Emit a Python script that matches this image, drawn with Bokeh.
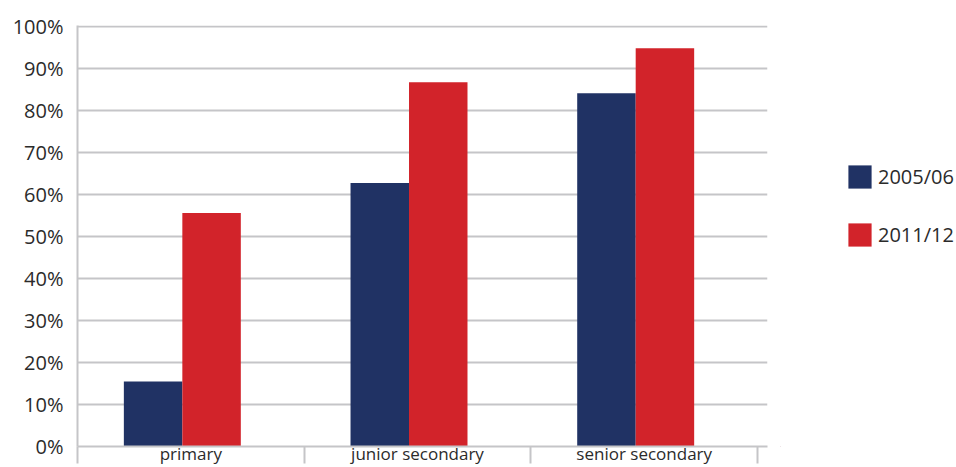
from bokeh.plotting import figure
from bokeh.layouts import row
from bokeh.models import (Range1d, FixedTicker, PrintfTickFormatter, ColumnDataSource,
                          Legend, LegendItem)
from bokeh.transform import dodge
from bokeh.embed import file_html
from bokeh.resources import INLINE

# Share of pupils (%) by school level
categories = ["primary", "junior secondary", "senior secondary"]
series_names = ["2005/06", "2011/12"]
values_2005 = [15.5, 62.7, 84.1]
values_2011 = [55.6, 86.7, 94.8]
y_ticks = [0, 10, 20, 30, 40, 50, 60, 70, 80, 90, 100]

BLUE = "#203264"
RED = "#d2232a"
GRID = "#c5c5c8"
TEXT = "#2b2b2b"
FONT = "Open Sans"

n = len(categories)
centers = [i + 0.5 for i in range(n)]
source = ColumnDataSource(data=dict(x=centers, a=values_2005, b=values_2011))

p = figure(width=780, height=467, output_backend="svg", toolbar_location=None,
           x_range=Range1d(0, n + 0.044), y_range=Range1d(0, 100.2),
           min_border_left=77, min_border_right=13, min_border_top=25,
           min_border_bottom=21)
p.outline_line_color = None
p.background_fill_color = "white"
p.border_fill_color = "white"

bar_w = 0.258
shift = -0.0375
r1 = p.vbar(x=dodge("x", shift - bar_w / 2, range=p.x_range), top="a", width=bar_w,
            source=source, fill_color=BLUE, line_color=None)
r2 = p.vbar(x=dodge("x", shift + bar_w / 2, range=p.x_range), top="b", width=bar_w,
            source=source, fill_color=RED, line_color=None)

# x axis: category names centred, separator ticks between categories
xa = p.xaxis[0]
xa.ticker = FixedTicker(ticks=centers, minor_ticks=list(range(n + 1)))
xa.major_label_overrides = {c: name for c, name in zip(centers, categories)}
xa.major_tick_line_color = None
xa.major_tick_out = 0
xa.major_tick_in = 0
xa.minor_tick_line_color = GRID
xa.minor_tick_line_width = 2
xa.minor_tick_out = 17
xa.minor_tick_in = 0
xa.axis_line_color = GRID
xa.axis_line_width = 2
xa.major_label_standoff = -22
xa.major_label_text_font = FONT
xa.major_label_text_font_size = "17px"
xa.major_label_text_color = TEXT

ya = p.yaxis[0]
ya.ticker = FixedTicker(ticks=y_ticks)
ya.formatter = PrintfTickFormatter(format="%d%%")
ya.major_tick_line_color = None
ya.minor_tick_line_color = None
ya.major_tick_out = 0
ya.axis_line_color = GRID
ya.axis_line_width = 2
ya.major_label_standoff = 14
ya.major_label_text_font = FONT
ya.major_label_text_font_size = "20px"
ya.major_label_text_color = TEXT

p.xgrid.grid_line_color = None
p.ygrid.grid_line_color = GRID
p.ygrid.grid_line_width = 2

# legend panel to the right of the chart; its key glyphs sit outside the visible range
lp = figure(width=176, height=467, output_backend="svg", toolbar_location=None,
            x_range=Range1d(0, 1), y_range=Range1d(0, 1),
            x_axis_type=None, y_axis_type=None, min_border=0)
lp.outline_line_color = None
lp.background_fill_color = "white"
lp.border_fill_color = "white"
k1 = lp.vbar(x=[-5], top=[-5], width=1, fill_color=BLUE, line_color=None)
k2 = lp.vbar(x=[-5], top=[-5], width=1, fill_color=RED, line_color=None)

legend = Legend(items=[LegendItem(label=series_names[0], renderers=[k1]),
                       LegendItem(label=series_names[1], renderers=[k2])],
                location=(65, 197), padding=0, margin=0, spacing=29,
                glyph_width=29, glyph_height=29, label_standoff=4,
                label_text_font=FONT, label_text_font_size="20px",
                label_text_color=TEXT, border_line_color=None,
                background_fill_alpha=0)
lp.add_layout(legend, "center")

layout = row(p, lp, spacing=0)
open("out.html", "w").write(file_html(layout, INLINE))
